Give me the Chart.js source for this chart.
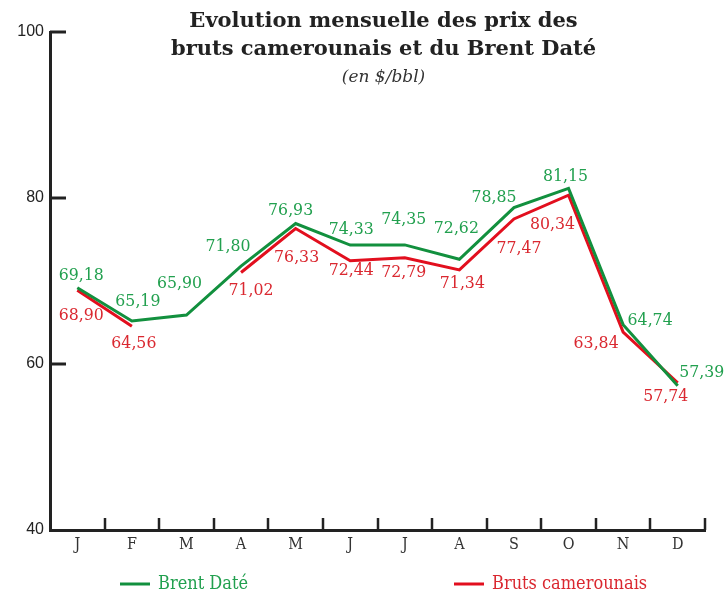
<!DOCTYPE html>
<html><head><meta charset="utf-8">
<script src="https://cdn.jsdelivr.net/npm/chart.js@4/dist/chart.umd.min.js"></script>
<style>html,body{margin:0;padding:0;background:#fff}</style>
</head><body>
<canvas id="c" width="724" height="597"></canvas>
<script>
// ---- data ----
const months = ['J','F','M','A','M','J','J','A','S','O','N','D'];
const brentDate = [69.18,65.19,65.90,71.80,76.93,74.33,74.35,72.62,78.85,81.15,64.74,57.39];
const brutsCamerounais = [68.90,64.56,null,71.02,76.33,72.44,72.79,71.34,77.47,80.34,63.84,57.74];
const yTickValues = [40,60,80,100];
const titleLines = ['Evolution mensuelle des prix des','bruts camerounais et du Brent Daté'];
const subtitleText = '(en $/bbl)';
const seriesNames = ['Brent Daté','Bruts camerounais'];

// ---- styles ----
const GREEN_LINE = '#12903e';
const GREEN_TEXT = '#22a04f';
const RED_LINE = '#e20f1e';
const RED_TEXT = '#da2830';
const AXIS = '#222222';
const SERIF = '"DejaVu Serif Condensed","DejaVu Serif",serif';

// label offsets (dx, dy) relative to each point
const labelOffsets = [
  [[4,-12],[6,-19],[-7,-32],[-13,-20],[-5,-13],[1,-16],[-1,-25],[-3,-31],[-20,-10],[-3,-12],[27,-4],[24,-13]],
  [[4,25],[2,17],null,[10,18],[1,29],[1,10],[-1,15],[3,14],[5,29],[-16,29],[-27,11],[-12,14]]
];

const fmt = v => v.toFixed(2).replace('.', ',');

const axisTicksPlugin = {
  id: 'axisTicks',
  beforeDatasetsDraw(chart) {
    const {ctx, chartArea, scales} = chart;
    const x = scales.x, y = scales.y;
    ctx.save();
    ctx.strokeStyle = AXIS;
    ctx.lineWidth = 3;
    ctx.lineCap = 'butt';
    yTickValues.forEach(v => {
      if (v === y.min) return;
      const py = Math.round(y.getPixelForValue(v));
      ctx.beginPath();
      ctx.moveTo(chartArea.left, py);
      ctx.lineTo(chartArea.left + 16, py);
      ctx.stroke();
    });
    ctx.lineWidth = 2.5;
    const step = x.getPixelForValue(1) - x.getPixelForValue(0);
    for (let i = 0; i < months.length; i++) {
      const px = Math.round(x.getPixelForValue(i) + step / 2);
      ctx.beginPath();
      ctx.moveTo(px, chartArea.bottom);
      ctx.lineTo(px, chartArea.bottom - 12);
      ctx.stroke();
    }
    ctx.restore();
  }
};

const labelsPlugin = {
  id: 'pointLabels',
  afterDatasetsDraw(chart) {
    const {ctx} = chart;
    ctx.save();
    ctx.font = '17.5px ' + SERIF;
    ctx.textAlign = 'center';
    ctx.textBaseline = 'middle';
    chart.data.datasets.forEach((ds, di) => {
      const meta = chart.getDatasetMeta(di);
      ctx.fillStyle = ds.labelColor;
      ds.data.forEach((v, i) => {
        if (v === null) return;
        const pt = meta.data[i];
        const off = labelOffsets[di][i];
        ctx.fillText(fmt(v), pt.x + off[0], pt.y + off[1]);
      });
    });
    ctx.restore();
  }
};

const headerPlugin = {
  id: 'header',
  afterDraw(chart) {
    const {ctx, chartArea} = chart;
    const cx = (chartArea.left + chartArea.right) / 2 + 6;
    ctx.save();
    ctx.textAlign = 'center';
    ctx.textBaseline = 'middle';
    ctx.fillStyle = '#222';
    ctx.font = 'bold 21px "DejaVu Serif",serif';
    titleLines.forEach((t, i) => ctx.fillText(t, cx, 22 + i * 28));
    ctx.font = 'italic 17px "DejaVu Serif",serif';
    ctx.fillStyle = '#333';
    ctx.fillText(subtitleText, cx, 78);
    ctx.restore();
  }
};

const legendPlugin = {
  id: 'customLegend',
  afterDraw(chart) {
    const {ctx} = chart;
    const items = [[120, chart.data.datasets[0]], [454, chart.data.datasets[1]]];
    ctx.save();
    ctx.font = '18px ' + SERIF;
    ctx.textBaseline = 'middle';
    items.forEach(([lx, ds]) => {
      const ly = 584;
      ctx.strokeStyle = ds.borderColor;
      ctx.lineWidth = 3;
      ctx.beginPath();
      ctx.moveTo(lx, ly);
      ctx.lineTo(lx + 30, ly);
      ctx.stroke();
      ctx.fillStyle = ds.labelColor;
      ctx.textAlign = 'left';
      ctx.fillText(ds.label, lx + 38, ly);
    });
    ctx.restore();
  }
};

new Chart(document.getElementById('c'), {
  type: 'line',
  data: {
    labels: months,
    datasets: [
      { label: seriesNames[0], data: brentDate, borderColor: GREEN_LINE, labelColor: GREEN_TEXT,
        borderWidth: 3, pointRadius: 0, tension: 0, spanGaps: false, order: 0 },
      { label: seriesNames[1], data: brutsCamerounais, borderColor: RED_LINE, labelColor: RED_TEXT,
        borderWidth: 3, pointRadius: 0, tension: 0, spanGaps: false, order: 1 }
    ]
  },
  options: {
    responsive: false,
    animation: false,
    devicePixelRatio: 1,
    layout: { padding: { left: 0, right: 19, top: 32, bottom: 37 } },
    plugins: { legend: { display: false }, title: { display: false }, tooltip: { enabled: false } },
    scales: {
      x: {
        type: 'category',
        offset: true,
        grid: { display: true, drawOnChartArea: false, drawTicks: false },
        border: { display: true, color: AXIS, width: 3 },
        ticks: { color: '#333', padding: 5, font: { family: SERIF, size: 16 }, maxRotation: 0 },
        afterFit(s) { s.height = 30; }
      },
      y: {
        min: 40, max: 100,
        afterBuildTicks(s) { s.ticks = yTickValues.map(v => ({ value: v })); },
        grid: { display: true, drawOnChartArea: false, drawTicks: false },
        border: { display: true, color: AXIS, width: 3 },
        ticks: { color: '#222', padding: 6, font: { family: '"Liberation Sans",Arial,sans-serif', size: 16 } },
        afterFit(s) { s.width = 50; }
      }
    }
  },
  plugins: [axisTicksPlugin, labelsPlugin, headerPlugin, legendPlugin]
});
</script>
</body></html>
